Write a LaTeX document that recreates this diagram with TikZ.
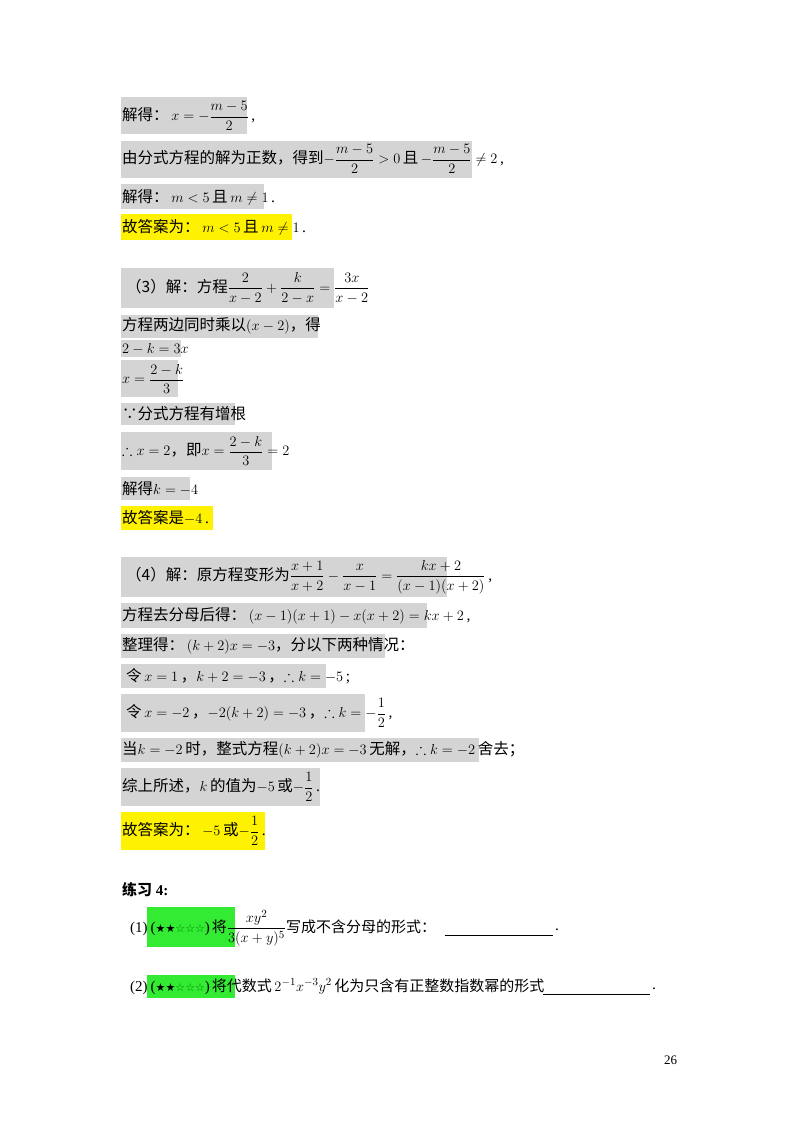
\documentclass[tikz,border=0pt]{standalone}
\usepackage{amssymb}
\usepackage{fontspec}
\setmainfont{Liberation Serif}
\newfontfamily\cjk{Noto Sans CJK SC}
\newfontfamily\sym{DejaVu Sans}
\begin{document}
\begin{tikzpicture}[x=1pt,y=-1pt,
  txt/.style={anchor=west,inner sep=0pt,font=\fontsize{15.5}{17}\selectfont},
  gb/.style={fill=black!17,draw=none},
  yb/.style={fill=yellow,draw=none},
  grb/.style={fill=green!90!black!80,draw=none}]
\useasboundingbox (0,0) rectangle (800,1132);
\newcommand{\C}[1]{{\cjk #1}}
\newcommand{\mm}[1]{$\displaystyle #1$}
% boxes
\fill[gb] (121,97) rectangle (247,134);
\fill[gb] (121,141) rectangle (472,178);
\fill[gb] (121,184) rectangle (264,209);
\fill[yb] (121,214) rectangle (292,240);
\fill[gb] (121,268) rectangle (334,308);
\fill[gb] (121,315) rectangle (318,338);
\fill[gb] (121,340) rectangle (181,357);
\fill[gb] (121,360) rectangle (178,397);
\fill[gb] (121,403) rectangle (235,425);
\fill[gb] (121,432) rectangle (272,470);
\fill[gb] (121,477) rectangle (190,500);
\fill[yb] (121,506) rectangle (213,530);
\fill[gb] (121,557) rectangle (447,597);
\fill[gb] (121,603) rectangle (427,628);
\fill[gb] (121,634) rectangle (385,658);
\fill[gb] (121,664) rectangle (326,688);
\fill[gb] (121,694) rectangle (365,732);
\fill[gb] (121,738) rectangle (479,762);
\fill[gb] (121,768) rectangle (320,806);
\fill[yb] (121,812) rectangle (265,850);
\fill[grb] (147,907) rectangle (235,947);
\fill[grb] (147,975) rectangle (235,998);
% texts
\node[txt] (t1) at (122,116) {\C{解得：}\,\mm{x=-\frac{m-5}{2}}\,,};
\node[txt] (t2) at (122,159) {\C{由分式方程的解为正数，得到}\mm{-\frac{m-5}{2}>0}\,\C{且}\,\mm{-\frac{m-5}{2}\neq 2}\,,};
\node[txt] (t3) at (122,197) {\C{解得：}\,\mm{m<5}\,\C{且}\,\mm{m\neq1}\,.};
\node[txt] (t4) at (122,227) {\C{故答案为：}\,\mm{m<5}\,\C{且}\,\mm{m\neq1}\,.};
\node[txt] (t5) at (126,288) {\C{（3）解：方程}\mm{\frac{2}{x-2}+\frac{k}{2-x}=\frac{3x}{x-2}}};
\node[txt] (t6) at (122,326) {\C{方程两边同时乘以}\mm{(x-2)}\C{，得}};
\node[txt] (t7) at (122,349) {\mm{2-k=3x}};
\node[txt] (t8) at (122,379) {\mm{x=\frac{2-k}{3}}};
\node[txt] (t9) at (122,414) {\C{∵分式方程有增根}};
\node[txt] (t10) at (122,451) {\mm{\therefore x=2}\C{，即}\mm{x=\frac{2-k}{3}=2}};
\node[txt] (t11) at (122,489) {\C{解得}\mm{k=-4}};
\node[txt] (t12) at (122,518) {\C{故答案是}\mm{-4}\,.};
\node[txt] (t13) at (126,577) {\C{（4）解：原方程变形为}\mm{\frac{x+1}{x+2}-\frac{x}{x-1}=\frac{kx+2}{(x-1)(x+2)}}\,,};
\node[txt] (t14) at (122,616) {\C{方程去分母后得：}\,\mm{(x-1)(x+1)-x(x+2)=kx+2}\,,};
\node[txt] (t15) at (122,646) {\C{整理得：}\,\mm{(k+2)x=-3}\C{，分以下两种情况：}};
\node[txt] (t16) at (126,676) {\C{令}\,\mm{x=1}\,\C{，}\mm{k+2=-3}\,\C{，}\mm{\therefore k=-5}\,;};
\node[txt] (t17) at (126,713) {\C{令}\,\mm{x=-2}\,\C{，}\mm{-2(k+2)=-3}\,\C{，}\mm{\therefore k=-\frac12}\,,};
\node[txt] (t18) at (122,750) {\C{当}\mm{k=-2}\,\C{时，整式方程}\mm{(k+2)x=-3}\,\C{无解，}\mm{\therefore k=-2}\,\C{舍去；}};
\node[txt] (t19) at (122,787) {\C{综上所述，}\mm{k}\,\C{的值为}\mm{-5}\,\C{或}\mm{-\frac12}\,.};
\node[txt] (t20) at (122,831) {\C{故答案为：}\,\mm{-5}\,\C{或}\mm{-\frac12}\,.};
\node[txt,font=\fontsize{15}{16}\selectfont\bfseries] (h) at (122,890) {{\cjk\bfseries 练习} 4:};
\node[txt,font=\fontsize{15}{16}\selectfont] (q1) at (130,928) {(1)\hspace{3pt}({\sym\fontsize{11}{12}\selectfont ★★{\color{green!50!black}☆☆☆}})\hspace{2pt}\C{将}\mm{\frac{xy^2}{3(x+y)^5}}\C{写成不含分母的形式：}};
\node[txt,font=\fontsize{15}{16}\selectfont] (q2) at (130,987) {(2)\hspace{3pt}({\sym\fontsize{11}{12}\selectfont ★★{\color{green!50!black}☆☆☆}})\hspace{2pt}\C{将代数式}\,\mm{2^{-1}x^{-3}y^2}\,\C{化为只含有正整数指数幂的形式}};
\coordinate (b1a) at (445,935); \coordinate (b1b) at (553,935);
\draw[line width=0.6pt] (b1a) -- (b1b);
\node[txt] (p1) at (555,930) {.};
\coordinate (b2a) at (543,994); \coordinate (b2b) at (650,994);
\draw[line width=0.6pt] (b2a) -- (b2b);
\node[txt] (p2) at (652,989) {.};
\node[txt,font=\fontsize{13}{14}\selectfont] (pg) at (664,1060) {26};
\end{tikzpicture}
\end{document}
